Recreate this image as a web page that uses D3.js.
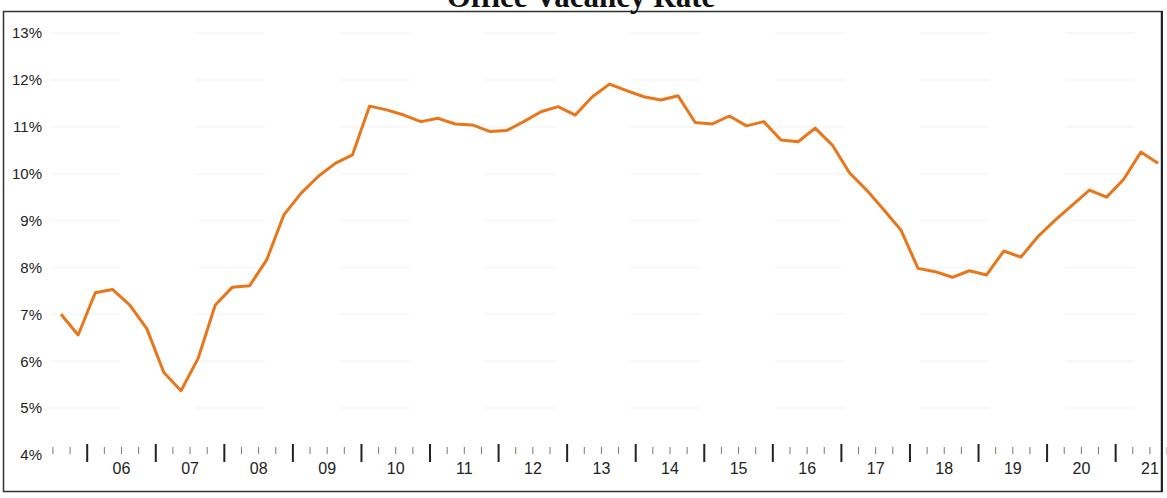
<!DOCTYPE html>
<html>
<head>
<meta charset="utf-8">
<script src="https://cdn.jsdelivr.net/npm/d3@7"></script>
<style>
  html, body { margin: 0; padding: 0; background: #fff; }
  svg { display: block; }
</style>
</head>
<body>
<svg id="chart" width="1167" height="498"></svg>
<script>
// Quarterly office vacancy rate (%), 2005 Q3 through 2021 Q3
const vacancy = [
  7.00, 6.56, 7.46, 7.53, 7.20, 6.70, 5.76, 5.37, 6.06, 7.20,
  7.58, 7.61, 8.16, 9.12, 9.58, 9.94, 10.22, 10.40, 11.44, 11.36,
  11.25, 11.11, 11.18, 11.06, 11.04, 10.90, 10.92, 11.11, 11.32, 11.43,
  11.25, 11.64, 11.91, 11.77, 11.64, 11.57, 11.66, 11.09, 11.06, 11.23,
  11.02, 11.11, 10.72, 10.68, 10.97, 10.61, 10.02, 9.65, 9.23, 8.80,
  7.98, 7.91, 7.79, 7.93, 7.84, 8.35, 8.22, 8.66, 9.01, 9.33,
  9.65, 9.50, 9.88, 10.46, 10.22
];
const firstYear = 2005;
const firstQuarter = 3;
const yearLabels = ["06","07","08","09","10","11","12","13","14","15","16","17","18","19","20","21"];
const yTicks = [4, 5, 6, 7, 8, 9, 10, 11, 12, 13];
const title = "Office Vacancy Rate";

// Quarter categories derived from the start quarter
const quarters = vacancy.map((v, i) => {
  const q = firstQuarter - 1 + i;
  return { year: firstYear + Math.floor(q / 4), q: (q % 4) + 1, i, v };
});

const svg = d3.select("#chart");

const x = d3.scaleLinear().domain([0, vacancy.length - 1]).range([61, 1158]);
const y = d3.scaleLinear().domain([4, 13]).range([455, 33]);

// Outer frame
svg.append("rect")
  .attr("x", 3.5).attr("y", 11.5)
  .attr("width", 1158).attr("height", 480)
  .attr("fill", "none")
  .attr("stroke", "#333")
  .attr("stroke-width", 1.5);
svg.append("line")
  .attr("x1", 1162).attr("x2", 1162).attr("y1", 11).attr("y2", 492)
  .attr("stroke", "#222").attr("stroke-width", 2);

// Title (sits on the top edge of the frame)
svg.append("text")
  .attr("x", 581).attr("y", 7)
  .attr("text-anchor", "middle")
  .attr("font-family", "Liberation Serif, Times New Roman, serif")
  .attr("font-weight", "bold")
  .attr("font-size", 31)
  .attr("fill", "#111")
  .text(title);

// Faint horizontal guides
svg.append("g")
  .selectAll("line")
  .data(yTicks.slice(1))
  .join("line")
  .attr("x1", 50).attr("x2", 1160)
  .attr("y1", d => y(d)).attr("y2", d => y(d))
  .attr("stroke", "#f8f8f8")
  .attr("stroke-width", 2)
  .attr("stroke-dasharray", "70 75");

// Y axis labels
const yAxis = d3.axisLeft(y)
  .tickValues(yTicks)
  .tickSize(0)
  .tickPadding(0)
  .tickFormat(d => d + "%");
svg.append("g")
  .attr("transform", "translate(42,0)")
  .call(yAxis)
  .call(g => g.select(".domain").remove())
  .selectAll("text")
  .attr("font-family", "Liberation Sans, Arial, sans-serif")
  .attr("font-size", 15)
  .attr("fill", "#222");

// X axis: quarter boundary ticks, taller at the start of each year
const boundaries = d3.range(-0.5, vacancy.length + 0.5, 1);
const yearStartOffset = (4 - (firstQuarter - 1)) % 4; // index of first Q1
const isYearStart = b => ((b + 0.5 - yearStartOffset) % 4 + 4) % 4 === 0;

const xAxisMinor = d3.axisBottom(x)
  .tickValues(boundaries.filter(b => !isYearStart(b)))
  .tickSize(7)
  .tickFormat("");
const xAxisMajor = d3.axisBottom(x)
  .tickValues(boundaries.filter(isYearStart))
  .tickSize(18)
  .tickFormat("");

svg.append("g")
  .attr("transform", "translate(0,447)")
  .call(xAxisMinor)
  .call(g => g.select(".domain").remove())
  .selectAll("line").attr("stroke", "#777").attr("stroke-width", 1);
svg.append("g")
  .attr("transform", "translate(0,444)")
  .call(xAxisMajor)
  .call(g => g.select(".domain").remove())
  .selectAll("line").attr("stroke", "#222").attr("stroke-width", 2);

// Year labels centred on each year's four quarters
const labelPos = yearLabels.map((lbl, k) => ({ lbl, pos: yearStartOffset + 4 * k + 1.5 }));
const xAxisLabels = d3.axisBottom(x)
  .tickValues(labelPos.map(d => d.pos))
  .tickSize(0)
  .tickFormat((d, i) => labelPos[i].lbl);
svg.append("g")
  .attr("transform", "translate(0,460)")
  .call(xAxisLabels)
  .call(g => g.select(".domain").remove())
  .selectAll("text")
  .attr("font-family", "Liberation Sans, Arial, sans-serif")
  .attr("font-size", 16)
  .attr("fill", "#222");

// Vacancy line
const line = d3.line()
  .x(d => x(d.i))
  .y(d => y(d.v));
svg.append("path")
  .datum(quarters)
  .attr("d", line)
  .attr("fill", "none")
  .attr("stroke", "#E8761B")
  .attr("stroke-width", 3)
  .attr("stroke-linejoin", "round");
</script>
</body>
</html>
